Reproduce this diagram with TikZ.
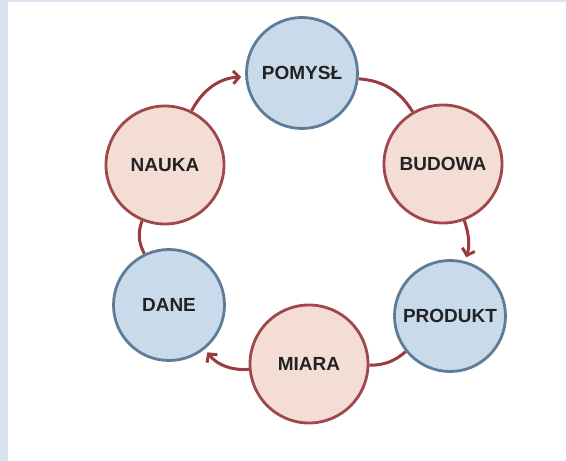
\documentclass[tikz,border=0pt]{standalone}
\usepackage{fontspec}
\setmainfont{Liberation Sans}
\usetikzlibrary{arrows.meta}
\definecolor{edgeblue}{HTML}{DAE3EF}
\definecolor{ballred}{HTML}{F3DDD5}
\definecolor{ballredline}{HTML}{A04749}
\definecolor{ballblue}{HTML}{C9DAEA}
\definecolor{ballblueline}{HTML}{5E7C97}
\definecolor{ringred}{HTML}{9A3B3F}
\definecolor{textgray}{HTML}{222222}

\begin{document}
\begin{tikzpicture}[x=1pt, y=1pt,
  ball/.style={circle, line width=2.8pt, inner sep=0pt, text=textgray,
    font=\fontsize{19}{19}\selectfont\bfseries},
  redball/.style={ball, draw=ballredline, fill=ballred, minimum size=118pt},
  blueball/.style={ball, draw=ballblueline, fill=ballblue, minimum size=111pt},
  link/.style={draw=ringred, line width=3pt},
  arrowlink/.style={link, -{Straight Barb[length=6pt, width=13pt]}, shorten >=4pt}]
% page and frame
\fill[white] (0,0) rectangle (566,461);
\fill[edgeblue] (0,0) rectangle (8,461);
\fill[edgeblue] (0,459) rectangle (566,461);
% the ring
\node[blueball] (pomysl) at (302,388) {POMYSŁ};
\node[redball] (budowa) at (443,297) {BUDOWA};
\node[blueball] (produkt) at (450,145) {PRODUKT};
\node[redball] (miara) at (309,97) {MIARA};
\node[blueball] (dane) at (169,156) {DANE};
\node[redball] (nauka) at (165,296) {NAUKA};
% connectors
\draw[arrowlink] (nauka) to[bend left=30] (pomysl);
\draw[link] (pomysl) to[bend left=27] (budowa);
\draw[arrowlink] (budowa) to[bend left=18] (produkt);
\draw[link] (produkt) to[bend left=20] (miara);
\draw[arrowlink] (miara) to[bend left=28] (dane);
\draw[link] (dane) to[bend left=24] (nauka);
\end{tikzpicture}
\end{document}
